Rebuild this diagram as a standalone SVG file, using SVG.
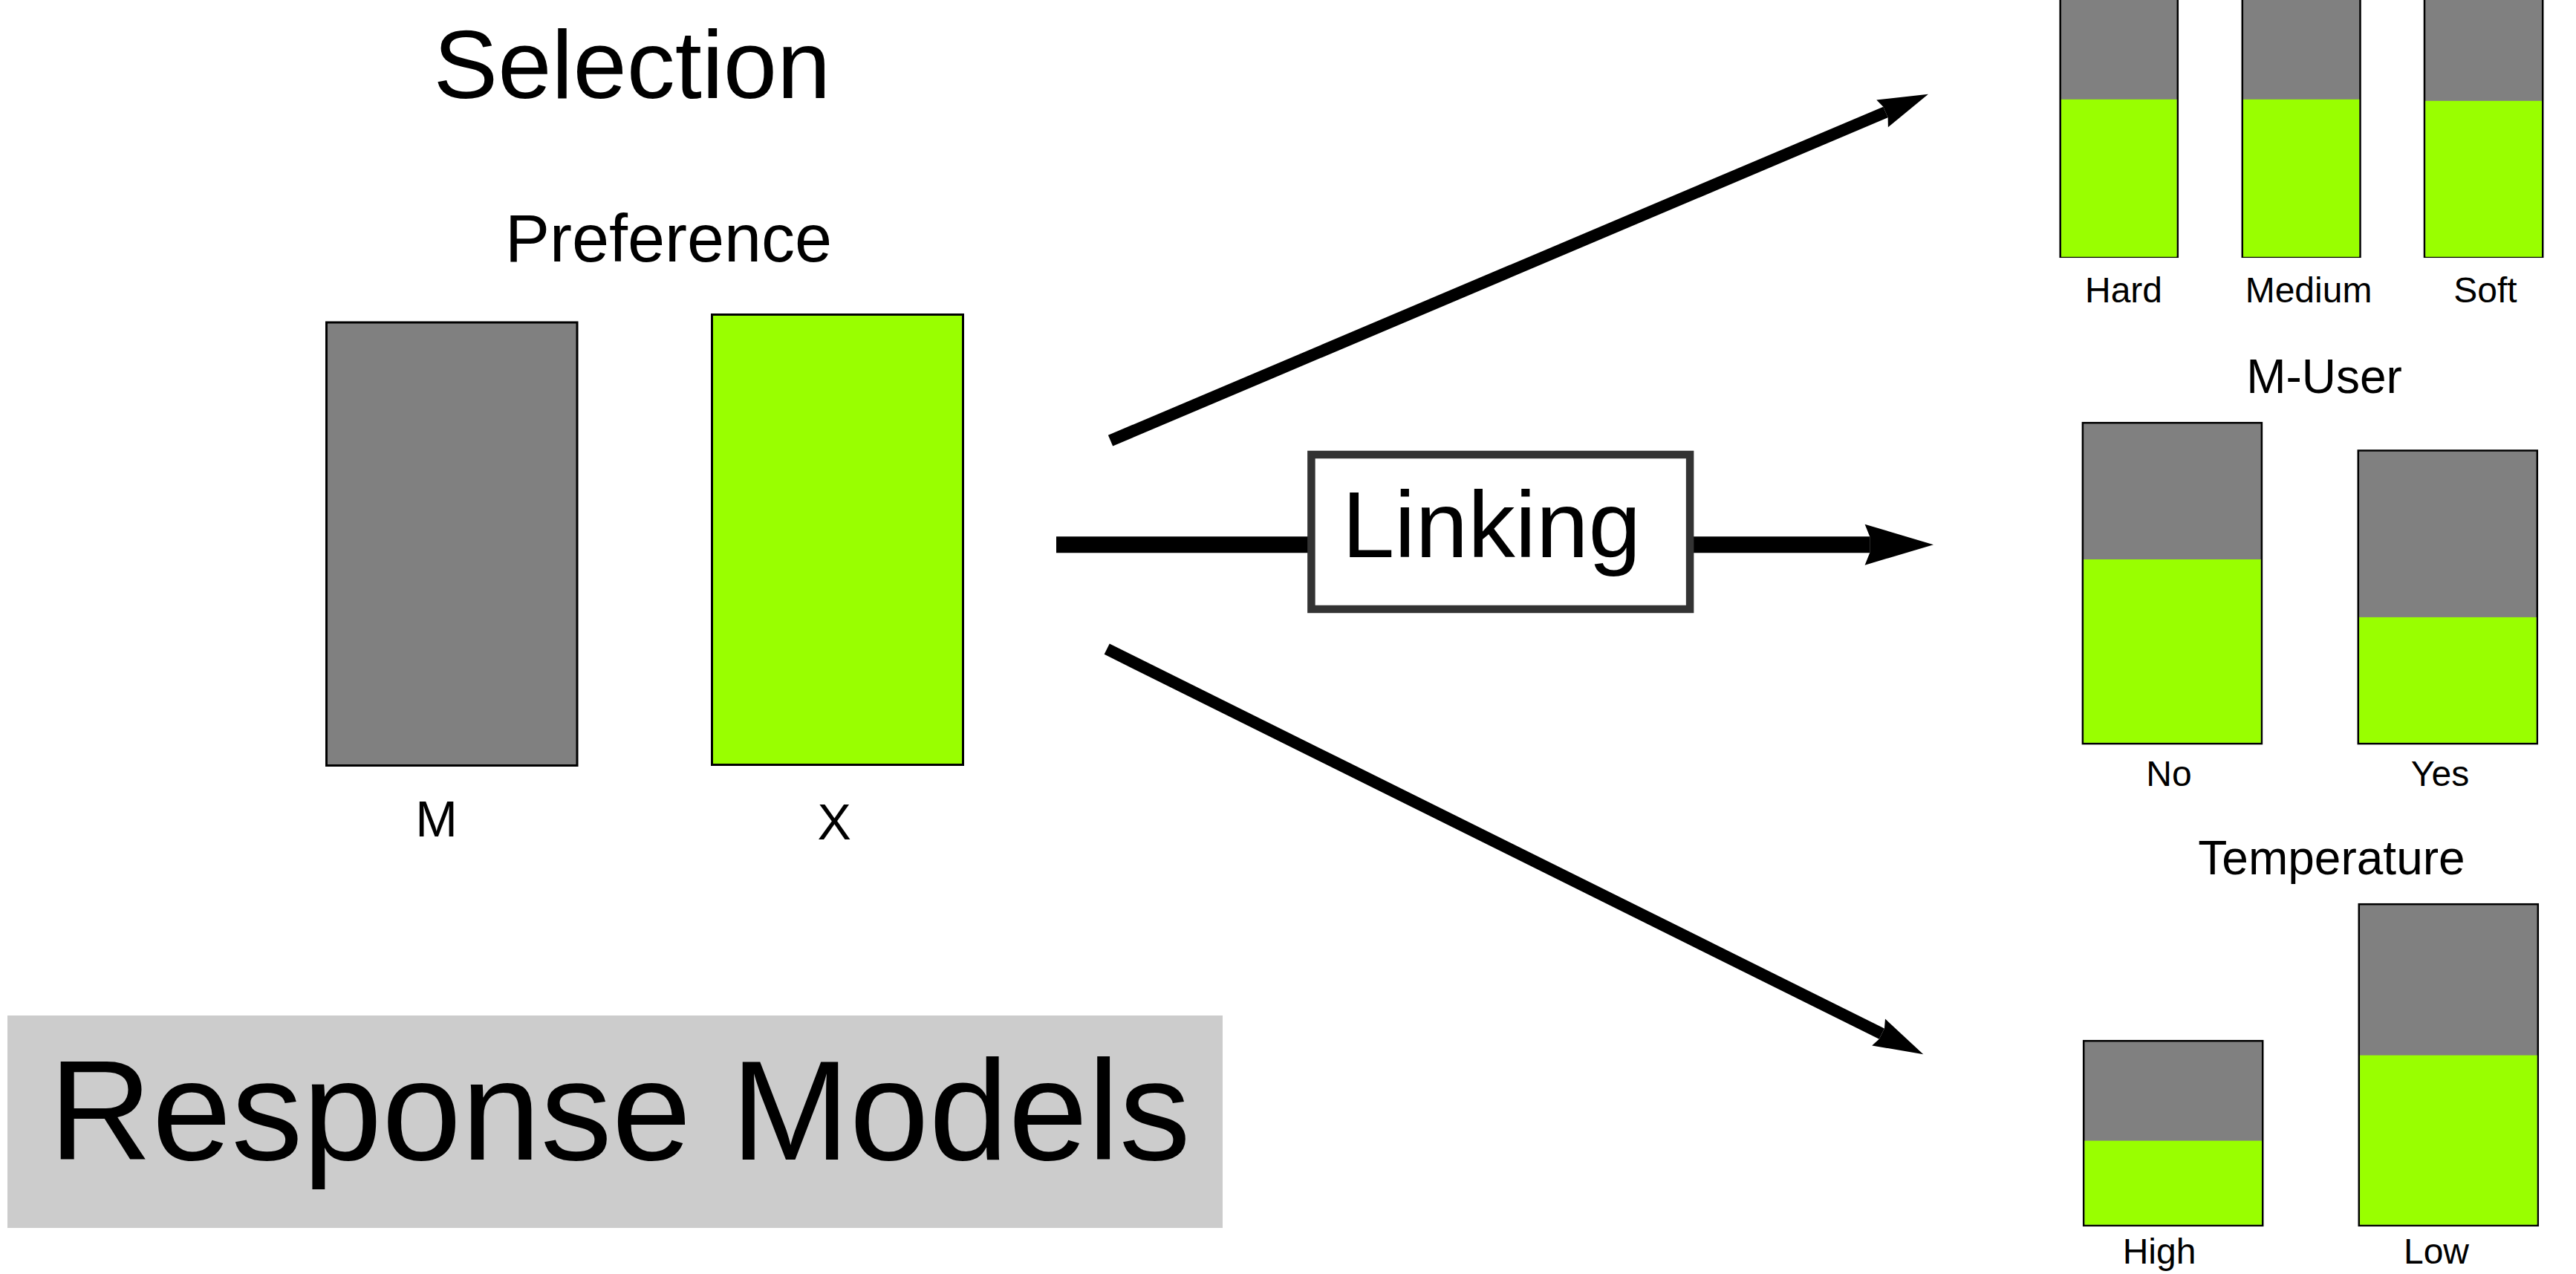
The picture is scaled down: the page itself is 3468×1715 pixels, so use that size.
<svg xmlns="http://www.w3.org/2000/svg" width="3468" height="1715" viewBox="0 0 3468 1715">
  <style>
    text { font-family: "Liberation Sans", Arial, sans-serif; fill: #000; }
    .mid { text-anchor: middle; }
    .gray { fill: #808080; stroke: #000; stroke-width: 3; }
    .green { fill: #99ff00; stroke: #000; stroke-width: 3; }
    .fill-g { fill: #99ff00; }
    .sbar { fill: #808080; stroke: #000; stroke-width: 2.5; }
    .lbl { font-size: 48px; }
    .head { font-size: 64px; }
    .conn { stroke: #000; fill: none; stroke-linecap: butt; }
  </style>
  <defs>
    <marker id="arrow" markerUnits="strokeWidth" orient="auto" refX="0.3" refY="0" markerWidth="5" markerHeight="3" overflow="visible">
      <path d="M0,-1.25 L4.2,0 L0,1.25 L0.3,0.5 L0.3,-0.5 Z" fill="#000"/>
    </marker>
  </defs>
  <rect width="3468" height="1715" fill="#fff"/>

  <!-- left side: preference between M and X -->
  <g id="selection">
    <text class="mid" x="851" y="132" font-size="130">Selection</text>
  </g>
  <g id="preference">
    <text class="mid" x="900" y="352" font-size="90">Preference</text>
    <rect class="gray" x="439.5" y="434" width="337.5" height="596.5"/>
    <rect class="green" x="958.5" y="423.5" width="338" height="606"/>
    <text class="mid" x="587.5" y="1126" font-size="68">M</text>
    <text class="mid" x="1123.3" y="1130" font-size="68">X</text>
  </g>

  <!-- connectors -->
  <g id="connectors">
    <line class="conn" x1="1495" y1="593.2" x2="2538.5" y2="151" stroke-width="16" marker-end="url(#arrow)"/>
    <line class="conn" x1="1422" y1="733.2" x2="2517.2" y2="733.2" stroke-width="22" marker-end="url(#arrow)"/>
    <line class="conn" x1="1490.2" y1="873.7" x2="2533.4" y2="1391.6" stroke-width="16" marker-end="url(#arrow)"/>
  </g>

  <g id="linking">
    <rect x="1765.4" y="612" width="509.7" height="208" fill="#fff" stroke="#333" stroke-width="10.5"/>
    <text x="1806.7" y="750" font-size="127">Linking</text>
  </g>

  <!-- right side: hardness -->
  <g id="hardness">
    <rect class="sbar" x="2773.7" y="-10" width="158.1" height="355.8"/>
    <rect class="fill-g" x="2775" y="133.8" width="155.5" height="212"/>
    <rect class="sbar" x="3018.8" y="-10" width="158.7" height="355.8"/>
    <rect class="fill-g" x="3020" y="133.8" width="156.2" height="212"/>
    <rect class="sbar" x="3264" y="-10" width="159.2" height="355.8"/>
    <rect class="fill-g" x="3265.3" y="135.8" width="156.7" height="210"/>
    <text class="mid lbl" x="2859" y="407">Hard</text>
    <text class="mid lbl" x="3108" y="407">Medium</text>
    <text class="mid lbl" x="3346" y="407">Soft</text>
  </g>

  <!-- right side: M-User -->
  <g id="m-user">
    <text class="mid head" x="3129" y="528.5" font-size="63">M-User</text>
    <rect class="sbar" x="2803.9" y="569.2" width="241" height="431.9"/>
    <rect class="fill-g" x="2805.2" y="753" width="238.5" height="246.8"/>
    <rect class="sbar" x="3174.8" y="606.5" width="241" height="394.6"/>
    <rect class="fill-g" x="3176.1" y="830.9" width="238.5" height="168.9"/>
    <text class="mid lbl" x="2920" y="1058">No</text>
    <text class="mid lbl" x="3285" y="1058">Yes</text>
  </g>

  <!-- right side: temperature -->
  <g id="temperature">
    <text class="mid head" x="3139" y="1177">Temperature</text>
    <rect class="sbar" x="2805.2" y="1401.2" width="241" height="248.6"/>
    <rect class="fill-g" x="2806.5" y="1535.6" width="238.5" height="113"/>
    <rect class="sbar" x="3175.8" y="1217.2" width="241" height="432.6"/>
    <rect class="fill-g" x="3177.1" y="1420.6" width="238.5" height="228"/>
    <text class="mid lbl" x="2907" y="1700.5">High</text>
    <text class="mid lbl" x="3280" y="1700.5">Low</text>
  </g>

  <!-- caption panel -->
  <g id="response-models">
    <rect x="10" y="1367" width="1636" height="286" fill="#cccccc"/>
    <text x="66" y="1560.5" font-size="192">Response Models</text>
  </g>
</svg>
